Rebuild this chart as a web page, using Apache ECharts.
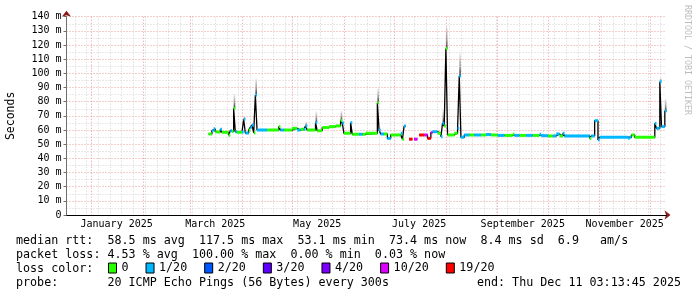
<!DOCTYPE html>
<html><head><meta charset="utf-8">
<script src="https://cdn.jsdelivr.net/npm/echarts@6/dist/echarts.min.js"></script>
<style>html,body{margin:0;padding:0;background:#fff}#c{width:697px;height:297px}</style>
</head><body><div id="c"></div>
<script>
// ---- axis definition ----
const startDate = '2024-12-17';
const endDate = '2025-12-11';
const weekStart = '2024-12-29';
const xLabelDates = ['2025-01-16','2025-03-16','2025-05-16','2025-07-16','2025-09-16','2025-11-16'];
const xLabelTexts = ['January 2025','March 2025','May 2025','July 2025','September 2025','November 2025'];
const yMin = 0, yMax = 140, yStep = 10;

// ---- median rtt (ms) with packet loss (pings lost out of 20) ----
const dates = ['2025-03-12','2025-03-14','2025-03-15','2025-03-16','2025-03-17','2025-03-19','2025-03-20','2025-03-24','2025-03-25','2025-03-26',
'2025-03-27','2025-03-28','2025-03-29','2025-04-01','2025-04-02','2025-04-03','2025-04-05','2025-04-06','2025-04-07','2025-04-08',
'2025-04-09','2025-04-10','2025-04-16','2025-04-23','2025-04-24','2025-04-26','2025-05-01','2025-05-04','2025-05-06','2025-05-08',
'2025-05-09','2025-05-10','2025-05-15','2025-05-16','2025-05-19','2025-05-23','2025-05-27','2025-05-30','2025-05-31','2025-06-01',
'2025-06-05','2025-06-06','2025-06-10','2025-06-12','2025-06-14','2025-06-21','2025-06-22','2025-06-23','2025-06-25','2025-06-27',
'2025-06-29','2025-07-05','2025-07-06','2025-07-07','2025-07-08','2025-07-10','2025-07-12','2025-07-13','2025-07-15','2025-07-16',
'2025-07-19','2025-07-21','2025-07-23','2025-07-24','2025-07-27','2025-07-29','2025-07-30','2025-07-31','2025-08-01','2025-08-02',
'2025-08-06','2025-08-08','2025-08-09','2025-08-10','2025-08-12','2025-08-15','2025-08-18','2025-08-22','2025-08-25','2025-08-28',
'2025-09-01','2025-09-05','2025-09-10','2025-09-11','2025-09-14','2025-09-18','2025-09-22','2025-09-26','2025-09-27','2025-10-01',
'2025-10-04','2025-10-06','2025-10-08','2025-10-10','2025-10-11','2025-10-26','2025-10-27','2025-10-29','2025-10-31','2025-11-01',
'2025-11-18','2025-11-19','2025-11-20','2025-11-22','2025-12-04','2025-12-05','2025-12-07','2025-12-08','2025-12-10'];
const rtt = [57.2,59.5,60.8,58.8,58.6,60.5,58.4,56.3,59.5,59.0,
75.3,58.8,58.4,58.6,67.6,57.9,60.0,62.0,63.6,57.9,
84.7,60.0,60.0,62.4,60.0,60.0,61.2,60.0,60.5,60.5,
62.8,60.0,65.2,59.5,61.7,62.4,62.9,66.6,65.0,57.7,
65.2,57.0,57.0,57.0,57.7,79.3,60.0,57.2,57.2,54.1,
56.5,57.7,53.5,62.8,null,53.5,null,53.5,null,56.5,
56.5,54.1,58.1,58.8,57.7,55.3,64.7,62.8,117.5,56.5,
57.7,61.2,98.2,54.9,56.5,56.5,56.5,56.5,56.8,56.5,
56.2,56.2,57.0,56.2,56.2,56.2,56.2,57.0,56.0,55.8,
55.8,57.2,55.8,57.7,55.8,54.1,55.8,66.6,53.0,54.9,
54.1,54.9,56.5,54.9,64.7,61.2,94.1,62.4,73.4];
const loss = [0,1,1,0,0,1,0,0,1,0,
0,1,0,1,1,1,0,1,1,0,
1,1,0,0,1,0,0,1,0,1,
1,0,1,0,0,0,0,0,1,0,
1,0,1,0,0,0,1,1,0,1,
0,1,0,1,null,19,null,10,null,19,
10,19,10,1,0,1,1,0,0,0,
0,1,1,1,1,0,1,0,1,0,
1,0,0,1,0,1,0,1,1,0,
1,1,0,1,1,0,1,1,1,1,
1,1,0,0,1,1,1,1,1];

// ---- smoke (upper spread of the pings) ----
const smokeDates = ['2025-03-27','2025-04-02','2025-04-09','2025-05-09','2025-05-15','2025-05-30','2025-06-21','2025-07-30','2025-08-01','2025-08-09','2025-12-07','2025-12-10'];
const smokeTop = [85.4,69.4,96.5,65.9,73.0,73.7,89.5,74.0,133.0,114.2,96.7,82.0];

// ---- loss colour legend ----
const lossLevels = [0,1,2,3,4,10,19];
const lossNames = ['0','1/20','2/20','3/20','4/20','10/20','19/20'];
const lossColors = ['#26ff00','#00b8ff','#0059ff','#5e00ff','#7e00ff','#dd00ff','#ff0000'];

// ---- texts ----
const statsLines = [
 'median rtt:  58.5 ms avg  117.5 ms max  53.1 ms min  73.4 ms now  8.4 ms sd  6.9   am/s',
 'packet loss: 4.53 % avg  100.00 % max  0.00 % min  0.03 % now',
 'loss color:',
 'probe:       20 ICMP Echo Pings (56 Bytes) every 300s'
];
const endText = 'end: Thu Dec 11 03:13:45 2025';
const sideText = 'RRDTOOL / TOBI OETIKER';

// ---- build ----
const MONO = "'DejaVu Sans Mono', monospace";
function addDays(s, n){ const d = new Date(s + 'T00:00:00Z'); d.setUTCDate(d.getUTCDate() + n); return d.toISOString().slice(0,10); }
const cats = [];
for (let i = 0; i < 1000; i++) { const s = addDays(startDate, i); cats.push(s); if (s === endDate) break; }
const catIndex = {}; cats.forEach((c, i) => catIndex[c] = i);
const weekIdx = catIndex[weekStart];

const lineData = dates.map((d, i) => [d, rtt[i]]);
lineData.push([endDate, rtt[rtt.length - 1]]);

const segData = lossLevels.map(() => []);
dates.forEach((d, i) => {
  if (rtt[i] == null) return;
  const next = i + 1 < dates.length ? catIndex[dates[i + 1]] : catIndex[endDate];
  const k = lossLevels.indexOf(loss[i]);
  segData[k].push([catIndex[d], rtt[i], next]);
});
const smokeData = smokeDates.map((d, j) => [catIndex[d], smokeTop[j], rtt[dates.indexOf(d)]]);

function renderSeg(params, api) {
  const a = api.coord([api.value(0), api.value(1)]);
  const b = api.coord([api.value(2), api.value(1)]);
  return { type: 'rect', shape: { x: a[0], y: a[1] - 1.5, width: Math.max(b[0] - a[0], 1), height: 3 },
    style: { fill: api.visual('color') } };
}
function renderSmoke(params, api) {
  const i = api.value(0);
  const a = api.coord([i, api.value(1)]);
  const b = api.coord([i + 1, api.value(2)]);
  return { type: 'rect', shape: { x: a[0], y: a[1], width: b[0] - a[0], height: b[1] - a[1] },
    style: { fill: new echarts.graphic.LinearGradient(0, 0, 0, 1, [
      { offset: 0, color: '#f2f2f2' }, { offset: 0.6, color: '#9a9a9a' }, { offset: 1, color: '#303030' }]) } };
}

const gridRed = 'rgba(225,120,120,0.75)';
const gridGray = '#d2d2d2';

const series = [
  { type: 'custom', name: 'smoke', renderItem: renderSmoke, data: smokeData, z: 2, silent: true },
  { type: 'line', name: 'median', data: lineData, step: 'end', showSymbol: false, symbol: 'none',
    connectNulls: false, lineStyle: { color: '#000', width: 1.3 }, z: 3, silent: true }
];
lossLevels.forEach((lv, k) => {
  series.push({ type: 'custom', name: lossNames[k], renderItem: renderSeg, data: segData[k],
    itemStyle: { color: lossColors[k] }, z: 4, silent: true });
});

const graphic = statsLines.map((t, i) => ({ type: 'text', x: 16, y: [241, 255, 269, 283][i],
  style: { text: t, font: "11.7px " + MONO, fill: '#000', verticalAlign: 'middle', align: 'left' } }));
graphic.push({ type: 'text', x: 681, y: 283, style: { text: endText, font: "11.7px " + MONO, fill: '#000', verticalAlign: 'middle', align: 'right' } });
graphic.push({ type: 'text', x: 687, y: 5, rotation: -Math.PI / 2,
  style: { text: sideText, font: "8.3px " + MONO, fill: '#bdbdbd', verticalAlign: 'middle', align: 'left' } });

const chart = echarts.init(document.getElementById('c'), null, { renderer: 'canvas' });
chart.setOption({
  animation: false,
  backgroundColor: '#fff',
  grid: { left: 66.5, right: 30.5, top: 16.7, bottom: 82, outerBoundsMode: 'none', containLabel: false },
  legend: {
    data: lossNames, left: 108, top: 262, padding: 0, itemWidth: 8, itemHeight: 10, itemGap: 17,
    icon: 'rect', selectedMode: false,
    itemStyle: { borderColor: '#000', borderWidth: 1 },
    textStyle: { fontFamily: MONO, fontSize: 11.7, color: '#000', padding: [0, 0, 0, 0] }
  },
  xAxis: [
    { type: 'category', data: cats, boundaryGap: false, position: 'bottom', z: 3,
      axisLine: { show: true, lineStyle: { color: '#000', width: 1 } },
      axisTick: { show: false },
      axisLabel: { interval: (i, v) => xLabelDates.includes(v), formatter: v => xLabelTexts[xLabelDates.indexOf(v)],
        fontFamily: MONO, fontSize: 10, color: '#000', margin: 4 },
      splitLine: { show: true, interval: (i, v) => v.endsWith('-01'), lineStyle: { color: gridRed, type: [1, 2], width: 1 } } },
    { type: 'category', data: cats, boundaryGap: false, position: 'bottom', z: 1,
      axisLine: { show: true, symbol: ['none', 'arrow'], symbolSize: [7, 6], symbolOffset: [0, 4], lineStyle: { color: '#8b1a1a' } },
      axisTick: { show: false }, axisLabel: { show: false },
      splitLine: { show: true, interval: (i, v) => ((i - weekIdx) % 7 === 0) && !v.endsWith('-01'), lineStyle: { color: gridGray, type: [1, 2], width: 1 } } }
  ],
  yAxis: [
    { type: 'value', min: yMin, max: yMax, interval: yStep, position: 'left', z: 3,
      axisLine: { show: true, lineStyle: { color: '#707070' } },
      axisTick: { show: true, length: 3, lineStyle: { color: '#707070' } },
      axisLabel: { formatter: v => v === 0 ? '0' : v + ' m', fontFamily: MONO, fontSize: 10, color: '#000', margin: 5 },
      splitLine: { show: true, lineStyle: { color: gridRed, type: [1, 2], width: 1 } },
      minorTick: { show: false, splitNumber: 2 },
      minorSplitLine: { show: true, lineStyle: { color: gridGray, type: [1, 2], width: 1 } },
      name: 'Seconds', nameLocation: 'middle', nameGap: 49, nameRotate: 90,
      nameTextStyle: { fontFamily: MONO, fontSize: 11.5, color: '#000' } },
    { type: 'value', min: yMin, max: yMax, interval: yStep, position: 'left', z: 1,
      axisLine: { show: true, symbol: ['none', 'arrow'], symbolSize: [7, 6], symbolOffset: [0, 6], lineStyle: { color: '#8b1a1a' } },
      axisTick: { show: false }, axisLabel: { show: false }, splitLine: { show: false } }
  ],
  series: series,
  graphic: graphic
});
</script></body></html>
